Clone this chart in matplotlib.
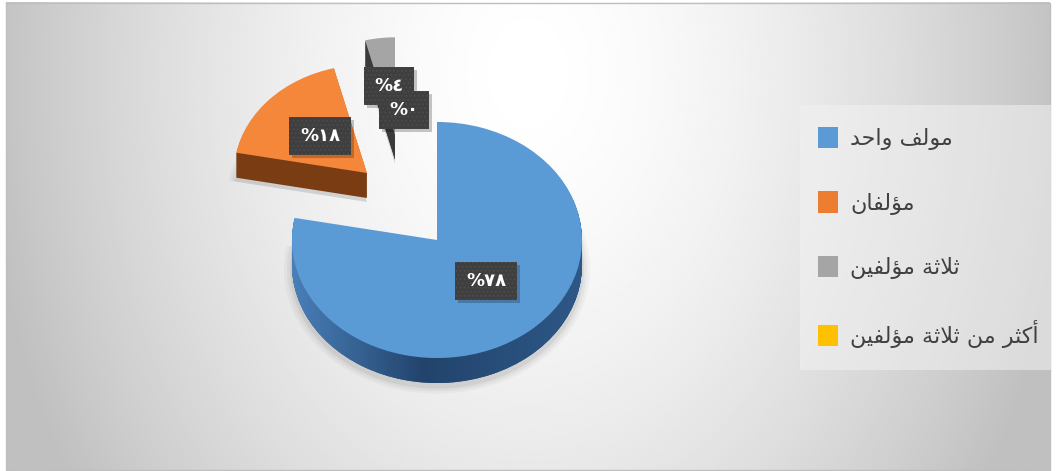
import unicodedata
import numpy as np
import matplotlib
matplotlib.use("Agg")
import matplotlib.pyplot as plt
from matplotlib.path import Path
from matplotlib.patches import Rectangle

categories = ["مولف واحد", "مؤلفان", "ثلاثة مؤلفين", "أكثر من ثلاثة مؤلفين"]
values = [78, 18, 4, 0]
colors = ["#5B9BD5", "#F5873A", "#A5A5A5", "#FFC000"]
side_colors = ["#2A5078", "#7A3C12", "#3A3A3A", "#7F6000"]
legend_colors = ["#5B9BD5", "#ED7D31", "#A5A5A5", "#FFC000"]

W, H = 1056, 471
SQUASH = 0.814
DEPTH = 25


def shape_arabic(text):
    # matplotlib has no arabic shaping, so pick the presentation forms by hand
    no_join_next = "اأدذرزوؤة"
    text = text.replace("لا", "\ufefb")
    out = []
    for word in text.split(" "):
        glyphs = []
        for i, ch in enumerate(word):
            prev = word[i - 1] if i > 0 else None
            nxt = word[i + 1] if i < len(word) - 1 else None
            joins_prev = prev is not None and prev not in no_join_next and prev != "\ufefb"
            joins_next = nxt is not None and ch not in no_join_next and ch != "\ufefb"
            if ch == "\ufefb":
                glyphs.append("\ufefc" if joins_prev else ch)
                continue
            name = unicodedata.name(ch)
            if joins_prev and joins_next:
                form = "MEDIAL"
            elif joins_prev:
                form = "FINAL"
            elif joins_next:
                form = "INITIAL"
            else:
                form = "ISOLATED"
            glyphs.append(unicodedata.lookup(name + " " + form + " FORM"))
        out.append("".join(reversed(glyphs)))
    return " ".join(reversed(out))


def arabic_digits(n):
    return str(n).translate(str.maketrans("0123456789", "٠١٢٣٤٥٦٧٨٩"))


def py(y):
    return (H - y) / SQUASH


plt.rcParams["font.family"] = ["DejaVu Sans"]
plt.rcParams["hatch.linewidth"] = 0.6

fig = plt.figure(figsize=(W / 100, H / 100), dpi=100)
fig.patch.set_facecolor("white")
ax = fig.add_axes([0, 0, 1, 1])

# slice placement in pixels: apex x, apex y, radius
placement = [(437, 240, 145), (367, 173, 133), (395, 135, 120), (395, 135, 120)]


def draw_slices(drop, cols, z, alpha=1.0, grow=0):
    wedges, _ = ax.pie(values, colors=cols, startangle=90, counterclock=False,
                       radius=145, frame=False, wedgeprops=dict(linewidth=0, alpha=alpha))
    for w, (cx, cy, r) in zip(wedges, placement):
        w.set_center((cx, py(cy + drop)))
        w.set_radius(r + grow)
        w.set_zorder(z)
    return wedges


# soft shadow under the slices
for g, a in [(8, 0.03), (5, 0.04), (2, 0.06)]:
    draw_slices(DEPTH + 4, ["#000000"] * 4, 2, alpha=a, grow=g)

side_paths = []
for d in range(DEPTH, 0, -1):
    ws = draw_slices(d, side_colors, 3)
    side_paths.append(ws[0].get_path())

tops = draw_slices(0, colors, 5)

# blue side wall shading, lighter towards the left
grad = np.linspace(0, 1, 300)
r = np.interp(grad, [0, 0.45, 1], [0x4A, 0x22, 0x2E])
g = np.interp(grad, [0, 0.45, 1], [0x7F, 0x44, 0x58])
b = np.interp(grad, [0, 0.45, 1], [0xB8, 0x6C, 0x88])
side_img = np.dstack([r, g, b]) / 255
im = ax.imshow(side_img, extent=(292, 585, py(400), py(200)), aspect="auto", zorder=4)
im.set_clip_path(Path.make_compound_path(*side_paths), ax.transData)

# background
xx, yy = np.meshgrid(np.linspace(0, 1, 520), np.linspace(0, 1, 240))
dist = np.sqrt(((xx - 0.5) / 0.5) ** 2 + ((yy - 0.15) / 0.85 * 0.55) ** 2)
shade = 1 - 0.23 * np.minimum(dist, 1.05) ** 1.6
bg = ax.imshow(shade, cmap="gray", vmin=0, vmax=1, extent=(6, 1050, py(470), py(3)),
               aspect="auto", zorder=0)
ax.plot([6, 1050, 1050, 6, 6], [py(3), py(3), py(470), py(470), py(3)],
        color="#BFBFBF", lw=1, zorder=1)

ax.set_xlim(0, W)
ax.set_ylim(py(H), py(0))
ax.set_aspect("auto")
ax.axis("off")

# data labels
label_pos = [(486, 281), (320, 136), (389, 86), (404, 110)]
labels = []
for v, (x, y) in zip(values, label_pos):
    labels.append(ax.text(x, py(y), "%" + arabic_digits(v), color="white", fontsize=13, fontweight="bold",
                          ha="center", va="center", zorder=8,
                          bbox=dict(boxstyle="square,pad=0.58", fc="#3F3F3F", ec="#4E4E4E", lw=0, hatch="....")))

# box shadows need the finished box sizes
fig.canvas.draw()
for t in labels:
    box = t.get_bbox_patch().get_window_extent()
    ax.add_patch(Rectangle((box.x0 + 3, box.y0 - 3), box.width, box.height, transform=None,
                           fc="#000000", alpha=0.22, lw=0, zorder=7))

# legend panel
ax.fill([800, 1052, 1052, 800], [py(105), py(105), py(370), py(370)],
        color="#F2F2F2", alpha=0.55, lw=0, zorder=5)

legend_handles = [plt.Rectangle((0, 0), 1, 1, fc=c, lw=0) for c in legend_colors]
leg = ax.legend(legend_handles, [shape_arabic(c) for c in categories],
                loc="upper left", bbox_to_anchor=(818 / W, 1 - 127 / H),
                prop=dict(size=16), labelcolor="#404040",
                handlelength=0.9, handleheight=1.1, handletextpad=0.55,
                labelspacing=1.85, borderpad=0, borderaxespad=0, frameon=False)
leg.set_zorder(6)

fig.savefig("out.png", dpi=100)
